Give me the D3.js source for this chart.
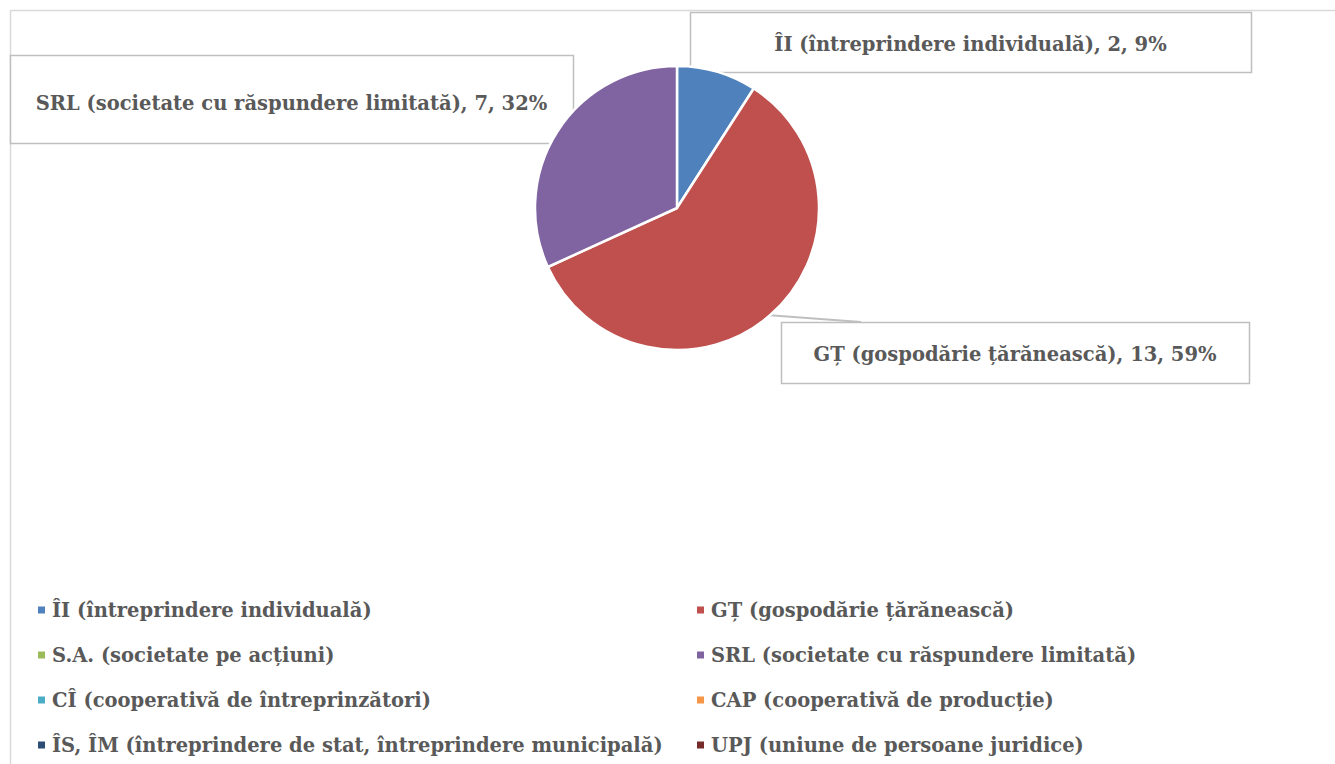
<!DOCTYPE html>
<html lang="ro">
<head>
<meta charset="UTF-8">
<title>Forma organizatorico-juridică</title>
<script src="https://d3js.org/d3.v7.min.js"></script>
<style>
  body { margin: 0; background: #fff; }
  text { font-family: "DejaVu Serif", serif; font-weight: bold; fill: #595959; }
</style>
</head>
<body>
<script>
// data
const categories = [
  "ÎI (întreprindere individuală)",
  "GȚ (gospodărie țărănească)",
  "S.A. (societate pe acțiuni)",
  "SRL (societate cu răspundere limitată)",
  "CÎ (cooperativă de întreprinzători)",
  "CAP (cooperativă de producție)",
  "ÎS, ÎM (întreprindere de stat, întreprindere municipală)",
  "UPJ (uniune de persoane juridice)"
];
const values = [2, 13, 0, 7, 0, 0, 0, 0];
const colours = ["#4F81BD", "#C0504D", "#9BBB59", "#8064A2", "#4BACC6", "#F79646", "#2C4D75", "#772C2A"];

// label boxes (layout only), keyed by category index
const labelBoxes = {
  0: { x: 690, y: 12, w: 561, h: 60 },
  1: { x: 781, y: 322, w: 468, h: 61 },
  3: { x: 10, y: 55, w: 563, h: 88 }
};

const w = 1335, h = 764;
const cx = 677, cy = 208, r = 142;
const fontSize = 19.5;

const svg = d3.select("body").append("svg")
  .attr("width", w)
  .attr("height", h);

// chart area border
svg.append("rect")
  .attr("x", 10.5).attr("y", 10.5)
  .attr("width", 1400).attr("height", 900)
  .attr("fill", "#fff")
  .attr("stroke", "#D9D9D9")
  .attr("stroke-width", 1.5);

const total = d3.sum(values);
const fmt = d3.format(".0%");

const pie = d3.pie().sort(null).value(d => d)(values);
const arc = d3.arc().innerRadius(0).outerRadius(r);

// boxes behind the pie
const boxes = svg.append("g");
Object.keys(labelBoxes).forEach(k => {
  const b = labelBoxes[k];
  boxes.append("rect")
    .attr("x", b.x + 0.5).attr("y", b.y + 0.5)
    .attr("width", b.w).attr("height", b.h)
    .attr("fill", "#fff")
    .attr("stroke", "#BFBFBF")
    .attr("stroke-width", 1.5);
});

// leader line for GȚ
{
  const p = pie[1];
  const mid = (p.startAngle + p.endAngle) / 2;
  const b = labelBoxes[1];
  svg.append("line")
    .attr("x1", cx + r * Math.sin(mid)).attr("y1", cy - r * Math.cos(mid))
    .attr("x2", b.x + 80).attr("y2", b.y)
    .attr("stroke", "#BFBFBF")
    .attr("stroke-width", 2);
}

const g = svg.append("g").attr("transform", `translate(${cx},${cy})`);
g.selectAll("path")
  .data(pie.filter(d => d.value > 0))
  .enter().append("path")
  .attr("d", arc)
  .attr("fill", d => colours[d.index])
  .attr("stroke", "#fff")
  .attr("stroke-width", 2.5)
  .attr("stroke-linejoin", "round");

// label texts
Object.keys(labelBoxes).forEach(k => {
  const b = labelBoxes[k];
  svg.append("text")
    .attr("x", b.x + b.w / 2)
    .attr("y", b.y + b.h / 2 + (k == 3 ? 4 : 2))
    .attr("dy", "0.35em")
    .attr("text-anchor", "middle")
    .attr("font-size", fontSize)
    .text(`${categories[k]}, ${values[k]}, ${fmt(values[k] / total)}`);
});

// legend, two columns
const colX = [38, 697];
const rowY = d3.scaleBand().domain(d3.range(4)).range([588, 768]);
const legend = svg.append("g");
categories.forEach((c, i) => {
  const x = colX[i % 2];
  const y = rowY(Math.floor(i / 2)) + rowY.bandwidth() / 2;
  legend.append("rect")
    .attr("x", x).attr("y", y - 4)
    .attr("width", 7).attr("height", 7)
    .attr("fill", colours[i]);
  legend.append("text")
    .attr("x", x + 14).attr("y", y)
    .attr("dy", "0.35em")
    .attr("font-size", fontSize)
    .text(c);
});
</script>
</body>
</html>
